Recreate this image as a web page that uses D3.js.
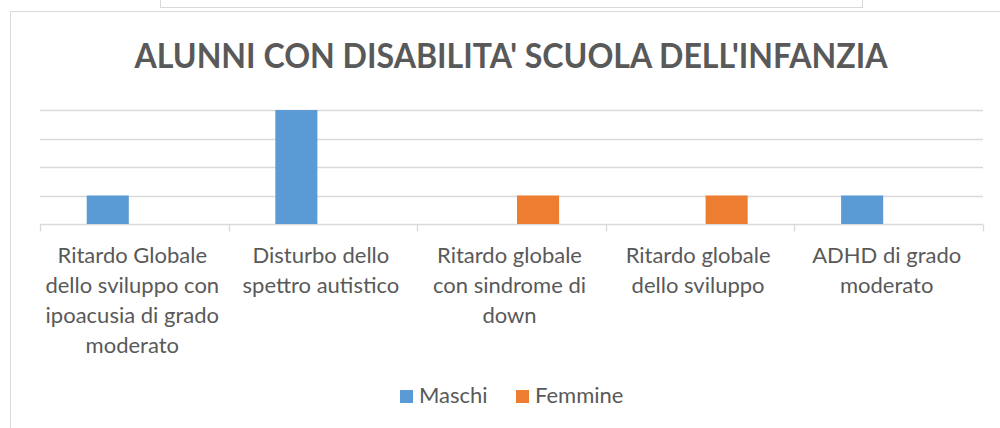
<!DOCTYPE html>
<html>
<head>
<meta charset="utf-8">
<title>Alunni con disabilita'</title>
<script src="https://cdn.jsdelivr.net/npm/d3@7"></script>
<style>
  body { margin: 0; background: #fff; }
  svg { display: block; font-family: Lato, "Open Sans", sans-serif; }
  .grid line { stroke: #d9d9d9; stroke-width: 1.3; }
  .lbl text { fill: #595959; font-size: 22px; text-anchor: middle; }
  .legend text { fill: #595959; font-size: 22px; }
</style>
</head>
<body>
<svg id="chart" width="1000" height="428"></svg>
<script>
// data
var categories = [
  ["Ritardo Globale", "dello sviluppo con", "ipoacusia di grado", "moderato"],
  ["Disturbo dello", "spettro autistico"],
  ["Ritardo globale", "con sindrome di", "down"],
  ["Ritardo globale", "dello sviluppo"],
  ["ADHD di grado", "moderato"]
];
var seriesNames = ["Maschi", "Femmine"];
var maschi  = [1, 4, 0, 0, 1];
var femmine = [0, 0, 1, 1, 0];
var yTicks = [0, 1, 2, 3, 4];
var colors = ["#5b9bd5", "#ed7d31"];

var svg = d3.select("#chart");

// frames: the box cut off above and the chart area border
svg.append("rect")
    .attr("x", 160.5).attr("y", -10).attr("width", 702).attr("height", 17.5)
    .attr("fill", "#fff").attr("stroke", "#d9d9d9");
svg.append("rect")
    .attr("x", 10.5).attr("y", 11.5).attr("width", 1010).attr("height", 430)
    .attr("fill", "#fff").attr("stroke", "#d9d9d9");

// title
svg.append("text")
    .attr("x", 511).attr("y", 68)
    .attr("text-anchor", "middle")
    .attr("fill", "#595959")
    .style("font-size", "34px")
    .style("font-weight", "bold")
    .attr("textLength", 753)
    .attr("lengthAdjust", "spacingAndGlyphs")
    .text("ALUNNI CON DISABILITA' SCUOLA DELL'INFANZIA");

// scales
var x = d3.scaleBand()
    .domain(d3.range(categories.length))
    .range([40, 983])
    .paddingInner(0).paddingOuter(0);

var xSub = d3.scaleBand()
    .domain(seriesNames)
    .range([0, x.bandwidth()])
    .paddingInner(0.2075)
    .paddingOuter(0.88);

var y = d3.scaleLinear()
    .domain([0, 4])
    .range([224, 110]);

// gridlines
svg.append("g").attr("class", "grid")
  .selectAll("line")
  .data(yTicks)
  .enter().append("line")
    .attr("x1", 40).attr("x2", 983)
    .attr("y1", function(d) { return Math.round(y(d)) + 0.5; })
    .attr("y2", function(d) { return Math.round(y(d)) + 0.5; });

// category tick marks on the base line
svg.append("g").attr("class", "grid")
  .selectAll("line")
  .data(d3.range(categories.length + 1))
  .enter().append("line")
    .attr("x1", function(d) { return Math.round(40 + d * x.step()) + 0.5; })
    .attr("x2", function(d) { return Math.round(40 + d * x.step()) + 0.5; })
    .attr("y1", Math.round(y(0)) + 0.5)
    .attr("y2", Math.round(y(0)) + 7.5);

// bars
var table = categories.map(function(c, i) {
  return [{s: "Maschi", v: maschi[i], c: colors[0]}, {s: "Femmine", v: femmine[i], c: colors[1]}];
});

var groups = svg.append("g").selectAll("g")
    .data(table)
    .enter().append("g")
    .attr("transform", function(d, i) { return "translate(" + x(i) + ",0)"; });

groups.selectAll("rect")
    .data(function(d) { return d.filter(function(e) { return e.v > 0; }); })
    .enter().append("rect")
    .attr("x", function(d) { return xSub(d.s); })
    .attr("width", xSub.bandwidth())
    .attr("y", function(d) { return y(d.v); })
    .attr("height", function(d) { return y(0) - y(d.v); })
    .attr("fill", function(d) { return d.c; });

// category labels
var lbl = svg.append("g").attr("class", "lbl");
categories.forEach(function(lines, i) {
  var t = lbl.append("text")
      .attr("x", x(i) + x.bandwidth() / 2 - 2)
      .attr("y", 263);
  t.selectAll("tspan")
    .data(lines)
    .enter().append("tspan")
      .attr("x", x(i) + x.bandwidth() / 2 - 2)
      .attr("dy", function(d, j) { return j === 0 ? 0 : 30; })
      .text(function(d) { return d; });
});

// legend
var legend = svg.append("g").attr("class", "legend")
    .attr("transform", "translate(400,390)");
var item = legend.selectAll("g")
    .data(seriesNames)
    .enter().append("g")
    .attr("transform", function(d, i) { return "translate(" + (i * 116) + ",0)"; });
item.append("rect")
    .attr("width", 13).attr("height", 13)
    .attr("fill", function(d, i) { return colors[i]; });
item.append("text")
    .attr("x", 19).attr("y", 13)
    .text(function(d) { return d; });
</script>
</body>
</html>
